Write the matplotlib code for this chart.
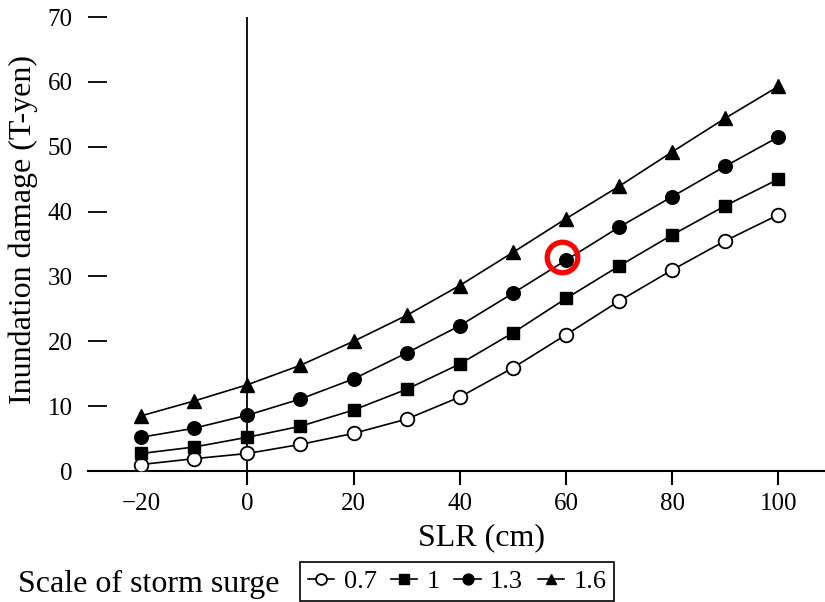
import matplotlib
matplotlib.use("Agg")
import matplotlib.pyplot as plt

plt.rcParams['font.family'] = ['Liberation Serif', 'DejaVu Serif']

slr = [-20, -10, 0, 10, 20, 30, 40, 50, 60, 70, 80, 90, 100]
s07 = [1.0, 1.9, 2.7, 4.1, 5.8, 8.0, 11.4, 15.9, 21.0, 26.2, 31.0, 35.5, 39.5]
s10 = [2.7, 3.7, 5.2, 6.9, 9.4, 12.6, 16.5, 21.3, 26.6, 31.6, 36.4, 40.9, 45.0]
s13 = [5.2, 6.6, 8.6, 11.1, 14.2, 18.2, 22.4, 27.4, 32.5, 37.6, 42.3, 47.0, 51.5]
s16 = [8.5, 10.8, 13.3, 16.3, 20.0, 24.0, 28.6, 33.7, 38.9, 43.9, 49.2, 54.4, 59.3]
series_labels = ['0.7', '1', '1.3', '1.6']
highlight = (59.3, 33.0)
xticks = [-20, 0, 20, 40, 60, 80, 100]
yticks = [0, 10, 20, 30, 40, 50, 60, 70]

W, H = 825, 602
ax_left, ax_right, ax_top, ax_bottom = 88, 874, 17, 471
fig = plt.figure(figsize=(W / 100, H / 100), dpi=100)
ax = fig.add_axes([ax_left / W, 1 - ax_bottom / H, (ax_right - ax_left) / W, (ax_bottom - ax_top) / H])

lw = 1.2
ms = 9.8
ax.plot(slr, s07, '-o', color='black', mfc='white', mec='black', mew=1.3, lw=lw, ms=ms, label=series_labels[0], zorder=3)
ax.plot(slr, s10, '-s', color='black', lw=lw, ms=ms - 0.5, label=series_labels[1], zorder=3)
ax.plot(slr, s13, '-o', color='black', lw=lw, ms=ms, label=series_labels[2], zorder=3)
ax.plot(slr, s16, '-^', color='black', lw=lw, ms=ms, label=series_labels[3], zorder=3)

ax.plot([highlight[0]], [highlight[1]], 'o', mfc='none', mec='#ff0000', mew=3.8, ms=22, zorder=5)

ax.axvline(0, color='black', lw=1.3, zorder=2)

ax.set_xlim(-30, 118)
ax.set_ylim(0, 70)
ax.set_xticks(xticks)
ax.set_yticks(yticks)
for s in ['top', 'right', 'left']:
    ax.spines[s].set_visible(False)
ax.spines['bottom'].set_linewidth(1.5)
ax.tick_params(axis='x', direction='out', length=10, width=1.5, labelsize=18, pad=6)
ax.tick_params(axis='y', direction='in', length=14, width=1.3, labelsize=18, pad=11)
ax.xaxis.get_major_ticks()[0].tick1line.set_visible(False)

ax.set_xlabel('SLR (cm)', fontsize=23, labelpad=6)
ax.set_ylabel('Inundation damage (T-yen)', fontsize=23)
axw = ax_right - ax_left
axh = ax_bottom - ax_top
ax.yaxis.set_label_coords((38 - ax_left) / axw, (ax_bottom - 230) / axh)

fig.text(18 / W, 1 - 592 / H, 'Scale of storm surge', fontsize=23, ha='left', va='baseline')
leg = fig.legend(loc='upper left', bbox_to_anchor=(300 / W, 1 - 562 / H), ncol=4,
                 fontsize=19, frameon=True, fancybox=False, edgecolor='black', framealpha=1,
                 handlelength=1.0, handletextpad=0.35, columnspacing=0.55,
                 borderpad=0.3, borderaxespad=0, markerscale=0.8)
leg.get_frame().set_linewidth(1.2)

fig.savefig('out.png', dpi=100)
